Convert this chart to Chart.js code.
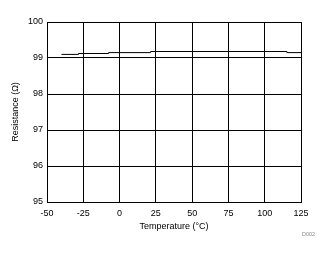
<!DOCTYPE html>
<html>
<head>
<meta charset="utf-8">
<script src="https://cdn.jsdelivr.net/npm/chart.js@4/dist/chart.umd.min.js"></script>
<style>
  html, body { margin: 0; padding: 0; background: #fff; }
  #wrap { width: 330px; height: 254px; position: relative; }
</style>
</head>
<body>
<div id="wrap"><canvas id="c" width="330" height="254"></canvas></div>
<script>
// Temperature (°C) at each step of the measured curve
const temperatures = [-40, -28.3, -7.6, 21.4, 115.3, 125];
// Resistance (Ω) values
const resistance = [99.10, 99.125, 99.15, 99.18, 99.15, 99.15];
const xTicks = [-50, -25, 0, 25, 50, 75, 100, 125];
const yTicks = [95, 96, 97, 98, 99, 100];
const xTitle = 'Temperature (°C)';
const yTitle = 'Resistance (Ω)';
const noteText = 'D002';

const points = temperatures.map((t, i) => ({ x: t, y: resistance[i] }));
const FONT = 'Liberation Sans, Arial, sans-serif';

const notePlugin = {
  id: 'note',
  afterDraw(chart) {
    const ctx = chart.ctx;
    ctx.save();
    ctx.font = '5.5px ' + FONT;
    ctx.fillStyle = '#8a8a8a';
    ctx.textBaseline = 'middle';
    ctx.textAlign = 'left';
    ctx.fillText(noteText, 302, 234);
    ctx.restore();
  }
};

new Chart(document.getElementById('c'), {
  type: 'line',
  data: {
    datasets: [{
      data: points,
      borderColor: '#000',
      borderWidth: 1,
      pointRadius: 0,
      stepped: true,
      fill: false
    }]
  },
  options: {
    responsive: false,
    animation: false,
    events: [],
    layout: { padding: { left: 0, right: 29, top: 22, bottom: 0 } },
    plugins: { legend: { display: false }, tooltip: { enabled: false } },
    scales: {
      x: {
        type: 'linear',
        min: xTicks[0],
        max: xTicks[xTicks.length - 1],
        afterBuildTicks(scale) { scale.ticks = xTicks.map(v => ({ value: v })); },
        afterFit(scale) { scale.height = 52; },
        ticks: {
          color: '#000',
          font: { family: FONT, size: 9 },
          padding: 6,
          maxRotation: 0,
          autoSkip: false
        },
        grid: { color: '#000', lineWidth: 1, drawTicks: false },
        border: { color: '#000', width: 1 },
        title: {
          display: true,
          text: xTitle,
          color: '#000',
          font: { family: FONT, size: 9 },
          padding: { top: 0, bottom: 21.6 }
        }
      },
      y: {
        min: yTicks[0],
        max: yTicks[yTicks.length - 1],
        afterBuildTicks(scale) { scale.ticks = yTicks.map(v => ({ value: v })); },
        afterFit(scale) { scale.width = 47; },
        ticks: {
          color: '#000',
          font: { family: FONT, size: 9 },
          padding: 4,
          autoSkip: false
        },
        grid: { color: '#000', lineWidth: 1, drawTicks: false },
        border: { color: '#000', width: 1 },
        title: {
          display: true,
          text: yTitle,
          color: '#000',
          font: { family: FONT, size: 9 },
          padding: { top: 10.6, bottom: 0 }
        }
      }
    }
  },
  plugins: [notePlugin]
});
</script>
</body>
</html>
